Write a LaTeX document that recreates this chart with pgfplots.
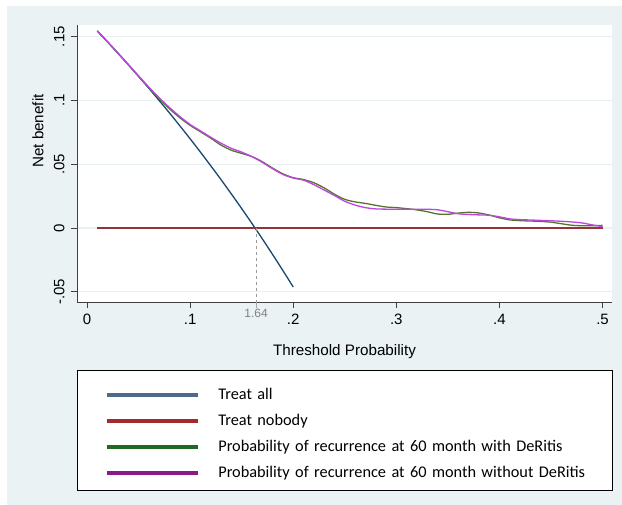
\documentclass[border=0pt]{standalone}
\usepackage{fontspec}
\setmainfont{Liberation Sans}
\newfontfamily\legfont{Carlito}
\usepackage{pgfplots}
\pgfplotsset{compat=1.18}
\definecolor{bgblue}{HTML}{EAF2F3}
\definecolor{gridc}{HTML}{E8F0F2}
\definecolor{cnavy}{HTML}{1A476F}
\definecolor{cmaroon}{HTML}{90353B}
\definecolor{cgreen}{HTML}{55752F}
\definecolor{cpurple}{HTML}{BE44E0}
\definecolor{lblue}{HTML}{4D6A8A}
\definecolor{lred}{HTML}{A3282F}
\definecolor{lgreen}{HTML}{1D6A20}
\definecolor{lpurple}{HTML}{8B1A88}
\begin{document}
\begin{tikzpicture}
\fill[white] (0bp,0bp) rectangle (622bp,505bp);
\fill[bgblue] (7bp,0bp) rectangle (622bp,499bp);
\begin{axis}[
  at={(77bp,203bp)}, anchor=south west,
  scale only axis, width=535bp, height=277bp,
  xmin=-0.0097, xmax=0.5092, ymin=-0.058, ymax=0.1592,
  clip mode=individual,
  axis x line*=bottom, axis y line*=left,
  axis line style={-, black!75, line width=1bp},
  axis background/.style={fill=white},
  tick align=outside, major tick length=6bp,
  tick style={black!75, line width=0.8bp},
  xtick={0,0.1,0.2,0.3,0.4,0.5},
  xticklabels={0,.1,.2,.3,.4,.5},
  ytick={-0.05,0,0.05,0.1,0.15},
  yticklabels={-.05,0,.05,.1,.15},
  extra x ticks={0.164}, extra x tick labels={},
  extra x tick style={tick style={gray!70, line width=0.8bp}},
  tick label style={font=\fontsize{15bp}{17bp}\selectfont},
  yticklabel style={rotate=90, anchor=south},
  yticklabel shift=3bp,
  xticklabel shift=3bp,
  ymajorgrids=true,
  grid style={gridc, line width=1.3bp},
  xlabel={Threshold Probability},
  ylabel={Net benefit},
  label style={font=\fontsize{15.2bp}{17bp}\selectfont},
  xlabel style={at={(axis description cs:0.5,-0.1805)}, anchor=center},
  ylabel style={at={(axis description cs:-0.0729,0.617)}, anchor=center},
  legend image code/.code={\path[draw=none] (0bp,0bp) -- (29bp,0bp); \draw[#1, line width=3.5bp] (29bp,-3.5bp) -- (120bp,-3.5bp);},
  legend cell align=left,
  legend style={at={(0,-0.2455)}, anchor=north west, draw=black, line width=1.2bp, fill=white,
    inner xsep=0bp, inner ysep=13.5bp, row sep=11bp, column sep=19bp,
    font=\legfont\fontsize{16.3bp}{19bp}\selectfont,
    nodes={inner sep=0bp, text width=394bp, text height=15bp, text depth=0bp, align=left, anchor=west}},
]
\addplot[cnavy, line width=1.3bp, smooth, forget plot] coordinates {
(0.01,0.15455) (0.02,0.14592) (0.03,0.13711) (0.04,0.12813) (0.05,0.11895)
(0.06,0.10957) (0.07,0.10000) (0.08,0.09022) (0.09,0.08022) (0.10,0.07000)
(0.11,0.05955) (0.12,0.04886) (0.13,0.03793) (0.14,0.02674) (0.15,0.01529)
(0.16,0.00357) (0.17,-0.00843) (0.18,-0.02073) (0.19,-0.03333) (0.20,-0.04625)};
\addplot[cmaroon, line width=1.3bp, forget plot] coordinates {(0.01,0) (0.5,0)};
\addplot[gray!80, dashed, line width=0.8bp, forget plot] coordinates {(0.164,0) (0.164,-0.058)};
\addplot[cgreen, line width=1.3bp, smooth, forget plot] coordinates {
(0.01,0.1545) (0.02,0.1459) (0.03,0.1371) (0.04,0.1281) (0.05,0.1190)
(0.06,0.1100) (0.07,0.1015) (0.08,0.0935) (0.09,0.0865) (0.10,0.0805)
(0.11,0.0755) (0.12,0.0705) (0.13,0.0650) (0.14,0.0610) (0.15,0.0585)
(0.16,0.0560) (0.17,0.0520) (0.18,0.0470) (0.19,0.0425) (0.20,0.0395)
(0.21,0.0380) (0.22,0.0355) (0.23,0.0315) (0.24,0.0265) (0.25,0.0225)
(0.26,0.0205) (0.27,0.0193) (0.28,0.0178) (0.29,0.0165) (0.30,0.0160)
(0.31,0.0152) (0.32,0.0142) (0.33,0.0128) (0.34,0.0110) (0.35,0.0108)
(0.36,0.0117) (0.37,0.0123) (0.38,0.0118) (0.39,0.0102) (0.40,0.0080)
(0.41,0.0064) (0.42,0.0058) (0.43,0.0055) (0.44,0.0052) (0.45,0.0046)
(0.46,0.0034) (0.47,0.0022) (0.48,0.0018) (0.49,0.0018) (0.50,0.0021)};
\addplot[cpurple, line width=1.3bp, smooth, forget plot] coordinates {
(0.01,0.1545) (0.02,0.1459) (0.03,0.1372) (0.04,0.1283) (0.05,0.1193)
(0.06,0.1105) (0.07,0.1022) (0.08,0.0945) (0.09,0.0875) (0.10,0.0812)
(0.11,0.0762) (0.12,0.0712) (0.13,0.0665) (0.14,0.0625) (0.15,0.0595)
(0.16,0.0560) (0.17,0.0515) (0.18,0.0465) (0.19,0.0420) (0.20,0.0392)
(0.21,0.0375) (0.22,0.0340) (0.23,0.0298) (0.24,0.0255) (0.25,0.0210)
(0.26,0.0180) (0.27,0.0160) (0.28,0.0150) (0.29,0.0148) (0.30,0.0147)
(0.31,0.0147) (0.32,0.0147) (0.33,0.0147) (0.34,0.0143) (0.35,0.0128)
(0.36,0.0112) (0.37,0.0106) (0.38,0.0103) (0.39,0.0100) (0.40,0.0088)
(0.41,0.0072) (0.42,0.0066) (0.43,0.0063) (0.44,0.0060) (0.45,0.0057)
(0.46,0.0053) (0.47,0.0048) (0.48,0.0040) (0.49,0.0025) (0.50,0.0010)};
\addlegendimage{lblue}\addlegendentry{Treat all}
\addlegendimage{lred}\addlegendentry{Treat nobody}
\addlegendimage{lgreen}\addlegendentry{Probability of recurrence at 60 month with DeRitis}
\addlegendimage{lpurple}\addlegendentry{Probability of recurrence at 60 month without DeRitis}
\node[gray, font=\fontsize{12bp}{14bp}\selectfont, anchor=north, inner sep=0bp] at (axis cs:0.164,-0.058) [yshift=-7bp] {1.64};
\end{axis}
\end{tikzpicture}
\end{document}
